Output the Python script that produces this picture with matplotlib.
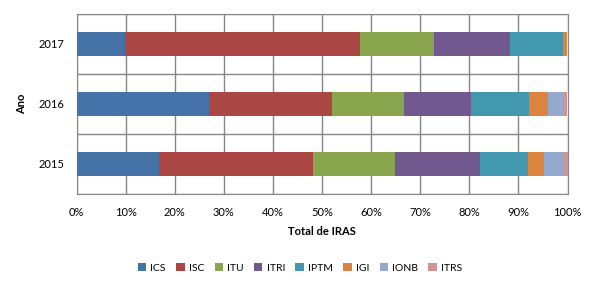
import numpy as np
import matplotlib
matplotlib.use('Agg')
import matplotlib.pyplot as plt
from matplotlib.ticker import FixedLocator, PercentFormatter

plt.rcParams['font.family'] = ['Lato', 'DejaVu Sans']

# Data (share of total, %)
years = ['2015', '2016', '2017']
series = ['ICS', 'ISC', 'ITU', 'ITRI', 'IPTM', 'IGI', 'IONB', 'ITRS']
ics = [16.8, 27.0, 9.9]
isc = [31.4, 25.1, 47.8]
itu = [16.7, 14.7, 15.1]
itri = [17.3, 13.7, 15.5]
iptm = [9.8, 11.8, 10.8]
igi = [3.3, 3.9, 0.9]
ionb = [4.1, 3.3, 0.0]
itrs = [0.7, 0.7, 0.0]
values = [ics, isc, itu, itri, iptm, igi, ionb, itrs]
colors = ['#4572A7', '#AA4643', '#89A54E', '#71588F', '#4198AF', '#DB843D', '#93A9CF', '#D19392']

fig = plt.figure(figsize=(5.97, 2.88), dpi=100)
ax = fig.add_axes([76.5 / 597, 1 - 194 / 288, 491 / 597, 180 / 288])

y = np.arange(len(years))
data = np.array(values, dtype=float)
data = data / data.sum(axis=0) * 100
left = np.zeros(len(years))
for name, vals, c in zip(series, data, colors):
    ax.barh(y, vals, left=left, height=0.4, color=c, label=name, zorder=3)
    left += vals

ax.set_xlim(0, 100)
ax.set_ylim(-0.5, 2.5)
ax.set_xticks(np.arange(0, 101, 10))
ax.xaxis.set_major_formatter(PercentFormatter(decimals=0))
ax.set_yticks(y)
ax.set_yticklabels(years)
ax.yaxis.set_minor_locator(FixedLocator([-0.5, 0.5, 1.5, 2.5]))
ax.grid(axis='x', which='major', color='#868686', lw=1, zorder=0)
ax.grid(axis='y', which='minor', color='#868686', lw=1, zorder=0)
ax.tick_params(axis='both', which='both', length=0, labelsize=8, colors='#000000')
ax.tick_params(axis='x', pad=9)
ax.tick_params(axis='y', pad=9)
for s in ax.spines.values():
    s.set_color('#868686')

ax.set_xlabel('Total de IRAS', fontsize=8, fontweight='bold', labelpad=6)
ax.set_ylabel('Ano', fontsize=8, fontweight='bold', labelpad=8)

fig.legend(loc='center', bbox_to_anchor=(300 / 597, 1 - 268 / 288), ncol=8, frameon=False,
           fontsize=7.5, handlelength=0.8, handleheight=0.8, handletextpad=0.4, columnspacing=1.0)

fig.savefig('out.png', dpi=100)
